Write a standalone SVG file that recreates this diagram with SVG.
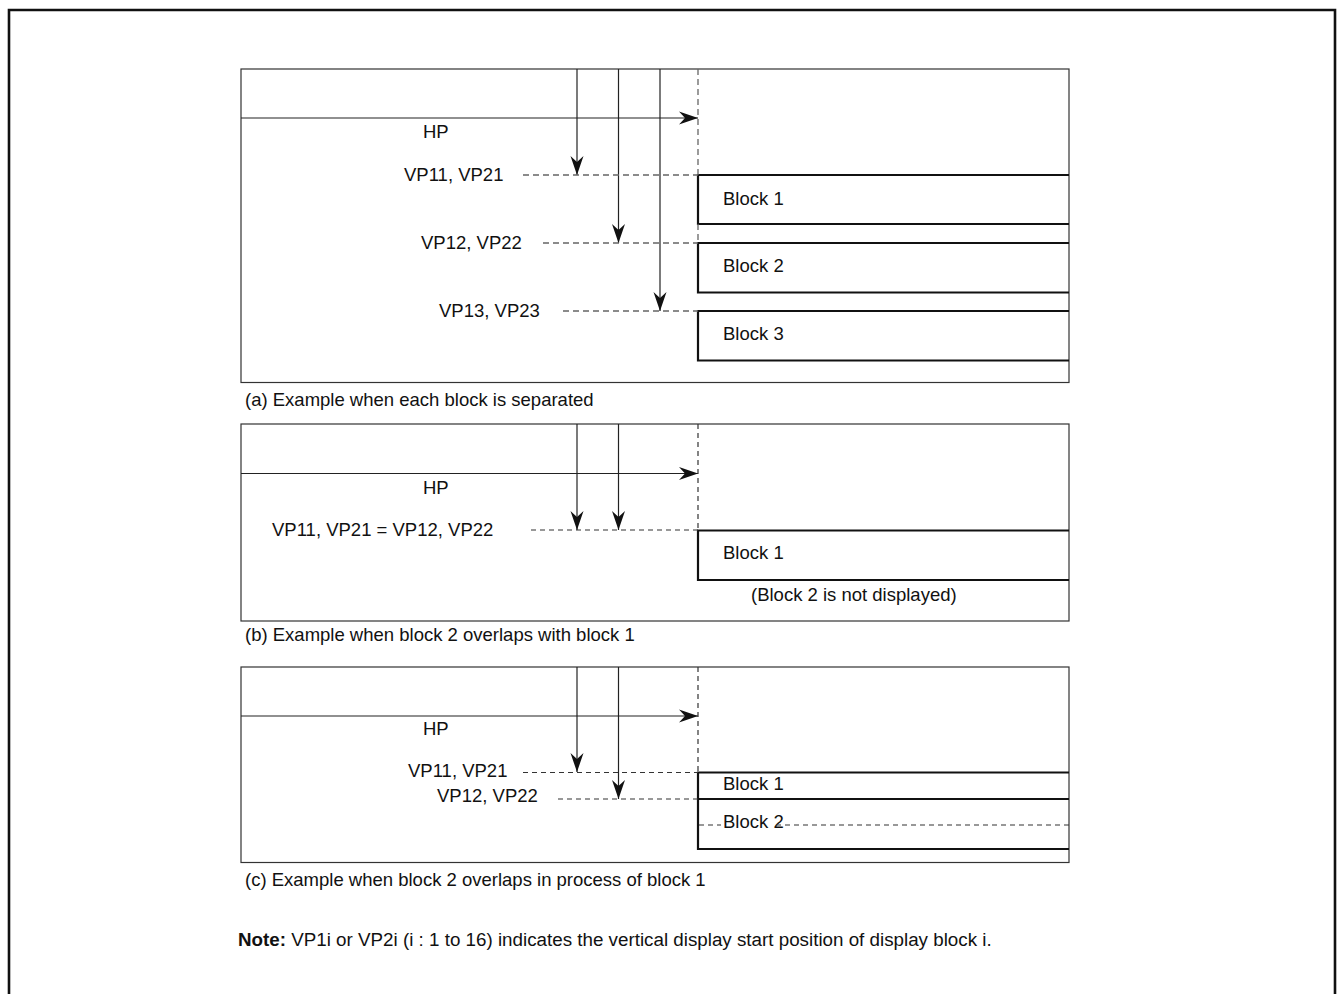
<svg xmlns="http://www.w3.org/2000/svg" width="1339" height="994" viewBox="0 0 1339 994">
<style>
text{font-family:"Liberation Sans",Arial,sans-serif;font-size:18.5px;fill:#111}
.note{font-size:18.8px}
.panel{fill:none;stroke:#333;stroke-width:1.2}
.blk{fill:none;stroke:#111;stroke-width:2.2}
.arr{fill:none;stroke:#222;stroke-width:1.2}
.dash{fill:none;stroke:#666;stroke-width:1.3;stroke-dasharray:6 4}
.dash2{fill:none;stroke:#333;stroke-width:1.2;stroke-dasharray:5 4}
</style>
<defs>
<marker id="ah" viewBox="-20 -8 21 16" refX="0" refY="0" markerWidth="21" markerHeight="16" markerUnits="userSpaceOnUse" orient="auto">
<path d="M0,0 L-19,-6.5 L-13,0 L-19,6.5 Z" fill="#111"/>
</marker>
</defs>
<rect width="1339" height="994" fill="#fff"/>
<path d="M9,996 V10 H1335 V996" fill="none" stroke="#111" stroke-width="2.6"/>

<g id="panel-a">
<rect class="panel" x="241" y="69" width="828" height="313.5"/>
<path class="blk" d="M1069,175 H698 V224 H1069"/>
<path class="blk" d="M1069,243 H698 V292.5 H1069"/>
<path class="blk" d="M1069,311 H698 V360.5 H1069"/>
<text x="423" y="138">HP</text>
<text x="404" y="181">VP11, VP21</text>
<text x="421" y="249">VP12, VP22</text>
<text x="439" y="317">VP13, VP23</text>
<text x="723" y="205">Block 1</text>
<text x="723" y="272">Block 2</text>
<text x="723" y="340">Block 3</text>
<text x="245" y="406">(a) Example when each block is separated</text>
</g>

<g id="panel-b">
<rect class="panel" x="241" y="424" width="828" height="197"/>
<path class="blk" d="M1069,530.5 H698 V580 H1069"/>
<text x="423" y="494">HP</text>
<text x="272" y="536">VP11, VP21 = VP12, VP22</text>
<text x="723" y="559">Block 1</text>
<text x="751" y="601">(Block 2 is not displayed)</text>
<text x="245" y="641">(b) Example when block 2 overlaps with block 1</text>
</g>

<g id="panel-c">
<rect class="panel" x="241" y="667" width="828" height="195.5"/>
<path class="blk" d="M1069,772.5 H698 V849 H1069"/>
<path class="blk" d="M698,799 H1069"/>
<text x="423" y="735">HP</text>
<text x="408" y="777">VP11, VP21</text>
<text x="437" y="802">VP12, VP22</text>
<text x="723" y="790">Block 1</text>
<text x="723" y="828">Block 2</text>
<text x="245" y="886">(c) Example when block 2 overlaps in process of block 1</text>
</g>

<g id="note">
<text class="note" x="238" y="946"><tspan font-weight="bold">Note:</tspan> VP1i or VP2i (i : 1 to 16) indicates the vertical display start position of display block i.</text>
</g>

<g id="connectors">
<line class="arr" x1="241" y1="118" x2="698" y2="118" marker-end="url(#ah)"/>
<line class="arr" x1="577" y1="69" x2="577" y2="175" marker-end="url(#ah)"/>
<line class="arr" x1="618.5" y1="69" x2="618.5" y2="243" marker-end="url(#ah)"/>
<line class="arr" x1="660" y1="69" x2="660" y2="311" marker-end="url(#ah)"/>
<line class="dash" x1="698" y1="69" x2="698" y2="175"/>
<line class="dash" x1="698" y1="224" x2="698" y2="243"/>
<line class="dash" x1="523" y1="175" x2="698" y2="175"/>
<line class="dash" x1="543" y1="243" x2="698" y2="243"/>
<line class="dash" x1="563" y1="311" x2="698" y2="311"/>
<line class="arr" x1="241" y1="473.5" x2="698" y2="473.5" marker-end="url(#ah)"/>
<line class="arr" x1="577" y1="424" x2="577" y2="530" marker-end="url(#ah)"/>
<line class="arr" x1="618.5" y1="424" x2="618.5" y2="530" marker-end="url(#ah)"/>
<line class="dash2" x1="698" y1="424" x2="698" y2="530"/>
<line class="dash2" x1="531" y1="530" x2="698" y2="530"/>
<line class="arr" x1="241" y1="716" x2="698" y2="716" marker-end="url(#ah)"/>
<line class="arr" x1="577" y1="667" x2="577" y2="772" marker-end="url(#ah)"/>
<line class="arr" x1="618.5" y1="667" x2="618.5" y2="799" marker-end="url(#ah)"/>
<line class="dash2" x1="698" y1="667" x2="698" y2="772"/>
<line class="dash2" x1="523" y1="772.5" x2="698" y2="772.5"/>
<line class="dash2" x1="558" y1="799" x2="698" y2="799"/>
<line class="dash2" x1="699" y1="825" x2="721" y2="825"/>
<line class="dash2" x1="776" y1="825" x2="1069" y2="825"/>
</g>
</svg>
